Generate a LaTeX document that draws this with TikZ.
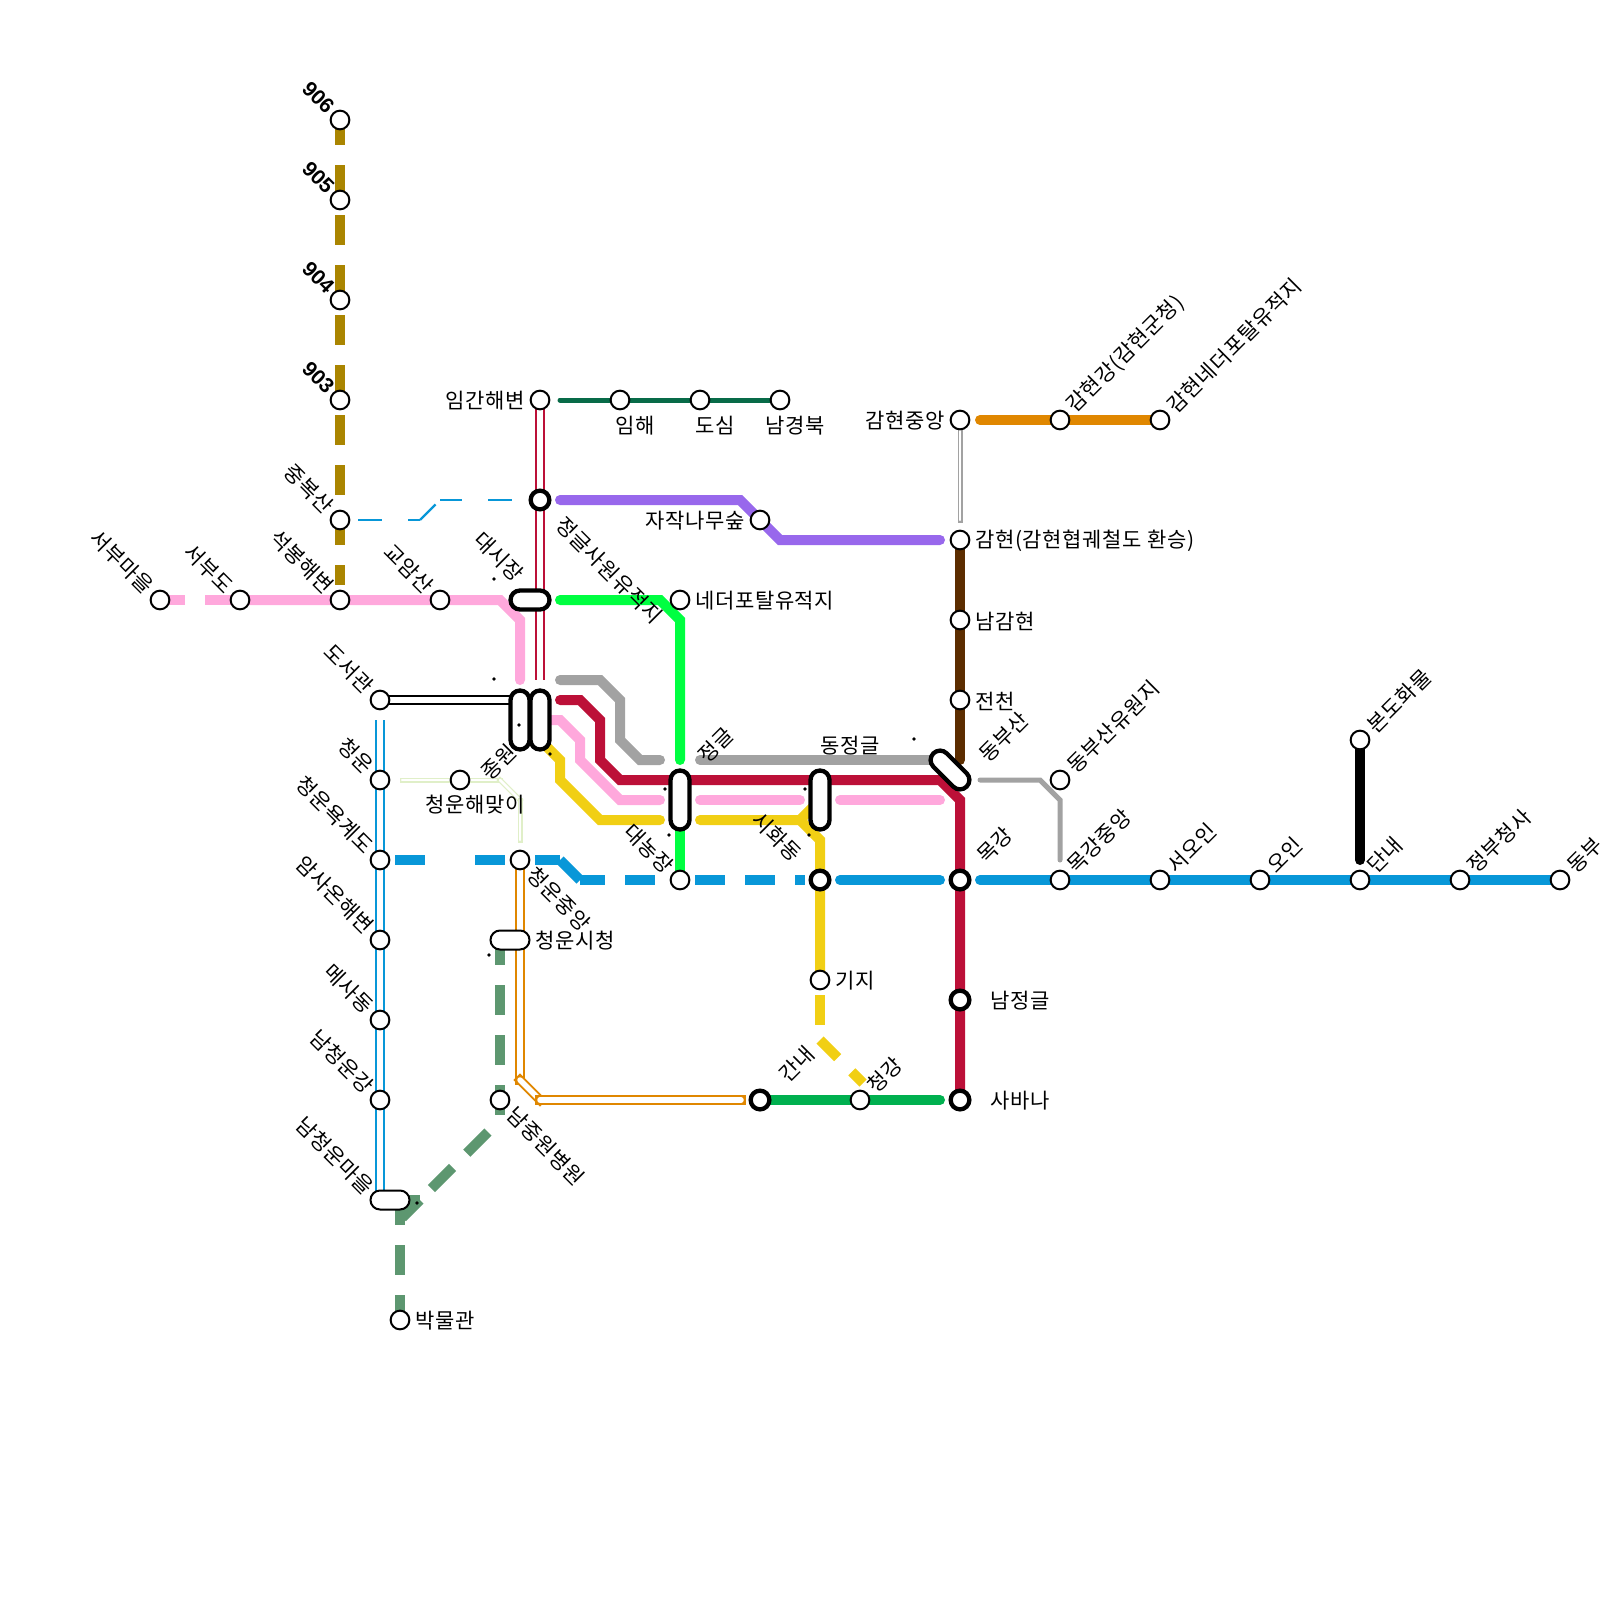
\documentclass[tikz,border=0pt]{standalone}
\usetikzlibrary{backgrounds}
\usepackage{fontspec}
\setmainfont[LetterSpace=3]{Noto Sans CJK KR}
\newfontfamily\numfont{Liberation Sans}
\definecolor{lineGold}{HTML}{AA8500}
\definecolor{linePink}{HTML}{FFA8DC}
\definecolor{lineBlue}{HTML}{0897D8}
\definecolor{lineRed}{HTML}{BC1038}
\definecolor{lineLime}{HTML}{00FF41}
\definecolor{linePurple}{HTML}{9868EC}
\definecolor{lineTeal}{HTML}{086B48}
\definecolor{lineGray}{HTML}{A2A2A2}
\definecolor{lineYellow}{HTML}{F1CF14}
\definecolor{lineBrown}{HTML}{5C2D00}
\definecolor{lineOrange}{HTML}{E08700}
\definecolor{lineGreen}{HTML}{00B04F}
\definecolor{lineMoss}{HTML}{5D9770}
\definecolor{linePale}{HTML}{E0EFC8}
\tikzset{
  solidln/.style={line width=10pt, line cap=round, miter limit=10},
  dashln/.style={line width=10pt, dash pattern=on 30pt off 20pt, dash phase=5pt},
  twinln/.style={line width=2pt, double=white, double distance=6pt},
  thinln/.style={line width=2.4pt, lineBlue, dash pattern=on 24pt off 26pt, dash phase=2pt},
  stn/.style={circle, draw=black, fill=white, line width=2pt, minimum size=18.7pt, inner sep=0pt},
  hub/.style={stn, line width=4.3pt},
  pill/.style={rectangle, rounded corners=9.5pt, draw=black, fill=white, line width=2pt,
    minimum width=39pt, minimum height=19pt, inner sep=0pt},
  bigpill/.style={pill, line width=4.3pt},
  lbl/.style={font=\fontsize{21}{23}\selectfont, inner sep=0pt},
  hlbl/.style={lbl, yshift=-1pt},
  upl/.style={lbl, rotate=-45, anchor=east},
  upr/.style={lbl, rotate=45, anchor=west},
  dnr/.style={lbl, rotate=-45, anchor=west},
  numl/.style={upl, font=\fontsize{21}{23}\selectfont\numfont\bfseries},
}
\begin{document}
\begin{tikzpicture}[x=1pt, y=-1pt]
  \useasboundingbox (0,0) rectangle (1600,1600);

  % stations
  \foreach \n/\x/\y in {n906/340/120, n905/340/200, n904/340/300, n903/340/400, njungbok/340/520,
      nseobu/160/600, nseobudo/240/600, nseokbong/340/600, ngyoam/440/600,
      nimgan/540/400, nimhae/620/400, ndosim/700/400, nnamgb/780/400,
      njajak/760/520, nnether/680/600, ngamj/960/420, ngamg/1060/420, ngamn/1160/420,
      ngam/960/540, nnamgam/960/620, njeon/960/700, nyuwon/1060/780, nbondo/1360/740,
      nmokj/1060/880, nseoin/1160/880, noin/1260/880, ndan/1360/880, njeongbu/1460/880, ndongb/1560/880,
      ndoseo/380/700, ncheong/380/780, nhaemaji/460/780, nyokgye/380/860, nchj/520/860, namsa/380/940,
      nmesa/380/1020, nnamch/380/1100, nnamj/500/1100, nmuseum/400/1320, ndaenong/680/880,
      ngiji/820/980, ncheongk/860/1100}
    \node[stn] (\n) at (\x,\y) {};
  \foreach \n/\x/\y in {nsaseol/540/500, nsihwa/820/880, nmok/960/880, nnamj2/960/1000, nsabana/960/1100, nganae/760/1100}
    \node[hub] (\n) at (\x,\y) {};

  % interchanges
  \node[bigpill] (psijang) at (530,600) {};
  \node[bigpill, rotate=90, minimum width=59pt] (pjw1) at (520,720) {};
  \node[bigpill, rotate=90, minimum width=59pt] (pjw2) at (540,720) {};
  \node[bigpill, rotate=90, minimum width=59pt] (pjeong) at (680,800) {};
  \node[bigpill, rotate=90, minimum width=59pt] (pdong) at (820,800) {};
  \node[bigpill, rotate=-45, minimum width=47pt] (pdb) at (950,770) {};
  \node[pill] (psicheong) at (510,940) {};
  \node[pill] (pnamch) at (390,1200) {};

  % free ends and bends
  \foreach \c/\x/\y in {cpale0/402/780, cpale1/500/780, cpale2/520/800, cpale3/520/840, cgrayend/960/520,
      cor1/520/1080, cor2/540/1100, cor3/741/1100, cblue0/380/720, cblue1/380/1200, cred1/540/680, cblack1/520/700,
      cthin1/420/520, cthin2/440/500, cgold1/340/585, cmoss0/500/940, cmoss1/500/1115, cmoss2/500/1120,
      cmoss3/420/1200, cmoss4/400/1200, cmoss5/400/1220, cpink1/520/680, cpink2/960/800,
      cgray0/540/680, cgray1/680/760, cgray2/940/760, cgray3/960/780, cgray4/1060/860,
      cred0/540/700, cyel0/540/740, cyel1/680/820, cyel2/800/820, cyel3/820/800, cyel4/820/1040, cyel5/863/1083,
      cblu1/560/860, cblu2/580/880, cbrown/960/760}
    \coordinate (\c) at (\x,\y);

  \begin{scope}[on background layer]
    % light lines first
    \foreach \a/\b in {cpale0/cpale1, cpale1/cpale2, cpale2/cpale3} {
      \draw[linePale, line width=5pt, line cap=rect] (\a) -- (\b);
      \draw[white, line width=2.6pt, line cap=round] (\a) -- (\b);
    }
    \draw[lineGray, line width=5pt, line cap=rect] (ngamj.center) -- (cgrayend);
    \draw[white, line width=2.4pt, line cap=round] (ngamj.center) -- (cgrayend);

    % orange twin line
    \foreach \a/\b in {nchj.center/cor1, cor1/cor2, cor2/cor3} {
      \draw[lineOrange, line width=9.5pt, line cap=rect] (\a) -- (\b);
      \draw[white, line width=5.5pt, line cap=round] (\a) -- (\b);
    }

    % twin lines
    \draw[twinln, lineBlue] (cblue0) -- (cblue1);
    \draw[twinln, lineRed] (nimgan.center) -- (cred1);
    \draw[twinln, black, line width=2.2pt, double distance=5.6pt] (ndoseo.center) -- (cblack1);

    % thin dashed link
    \draw[thinln, dash phase=32pt] (njungbok.center) -- (cthin1);
    \draw[thinln] (cthin1) -- (cthin2);
    \draw[thinln] (cthin2) -- (nsaseol.center);

    % gold line
    \draw[dashln, lineGold] (n906.center) -- (cgold1);

    % moss line
    \draw[dashln, lineMoss] (cmoss0) -- (cmoss1);
    \draw[dashln, lineMoss, dash phase=33pt] (cmoss2) -- (cmoss3);
    \draw[dashln, lineMoss] (cmoss4) -- (cmoss3);
    \draw[dashln, lineMoss] (cmoss3) -- (cmoss5);
    \draw[dashln, lineMoss] (cmoss4) -- (nmuseum.center);

    % pink line
    \draw[dashln, linePink] (nseobu.center) -- (nseobudo.center);
    \draw[solidln, linePink] (nseobudo.center) -- (500,600) -- (520,620) -- (cpink1);
    \draw[solidln, linePink, shorten >=20pt] (pjw2.center) -- (560,720) -- (580,740) -- (580,760) -- (620,800) -- (pjeong.center);
    \draw[solidln, linePink, shorten <=20pt, shorten >=20pt] (pjeong.center) -- (pdong.center);
    \draw[solidln, linePink, shorten <=20pt, shorten >=20pt] (pdong.center) -- (cpink2);

    % gray line
    \draw[solidln, lineGray, shorten <=20pt, shorten >=20pt] (cgray0) -- (600,680) -- (620,700) -- (620,740) -- (640,760) -- (cgray1);
    \draw[solidln, lineGray, shorten <=20pt] (cgray1) -- (cgray2);
    \draw[lineGray, line width=5pt, line cap=round, miter limit=10, shorten <=20pt] (cgray3) -- (1040,780) -- (1060,800) -- (cgray4);

    % red line
    \draw[solidln, lineRed, shorten <=20pt] (cred0) -- (580,700) -- (600,720) -- (600,760) -- (620,780) -- (940,780) -- (960,800) -- (nsabana.center);

    % yellow line
    \draw[solidln, lineYellow, shorten >=20pt] (cyel0) -- (560,760) -- (560,780) -- (600,820) -- (cyel1);
    \draw[solidln, lineYellow, shorten <=20pt] (cyel1) -- (cyel2) -- (cyel3);
    \draw[solidln, lineYellow] (cyel2) -- (820,840) -- (ngiji.center);
    \draw[lineYellow, line width=10pt, dash pattern=on 30pt off 30pt, shorten <=15pt] (ngiji.center) -- (cyel4);
    \draw[dashln, lineYellow] (cyel4) -- (cyel5);

    % blue line
    \draw[lineBlue, line width=10pt, dash pattern=on 30pt off 50pt, shorten <=15pt, shorten >=15pt] (nyokgye.center) -- (nchj.center);
    \draw[lineBlue, line width=10pt, shorten <=15pt] (nchj.center) -- (cblu1);
    \draw[lineBlue, line width=10pt] (cblu1) -- (cblu2);
    \draw[dashln, lineBlue, shorten >=25pt] (cblu2) -- (ndaenong.center);
    \draw[lineBlue, line width=10pt, dash pattern=on 30pt off 20pt, shorten <=15pt, shorten >=15pt] (ndaenong.center) -- (nsihwa.center);
    \draw[solidln, lineBlue, shorten <=20pt, shorten >=20pt] (nsihwa.center) -- (nmok.center);
    \draw[solidln, lineBlue, shorten <=20pt] (nmok.center) -- (ndongb.center);

    % other lines
    \draw[solidln, lineLime, shorten <=30pt, shorten >=40pt] (psijang.center) -- (660,600) -- (680,620) -- (pjeong.center);
    \draw[solidln, lineLime] (pjeong.center) -- (ndaenong.center);
    \draw[solidln, linePurple, shorten <=20pt, shorten >=20pt] (nsaseol.center) -- (740,500) -- (780,540) -- (ngam.center);
    \draw[lineTeal, line width=5pt, line cap=round, shorten <=20pt] (nimgan.center) -- (nnamgb.center);
    \draw[solidln, lineOrange, shorten <=20pt] (ngamj.center) -- (ngamn.center);
    \draw[solidln, lineBrown] (ngam.center) -- (cbrown);
    \draw[solidln, black, shorten >=20pt] (nbondo.center) -- (ndan.center);
    \draw[solidln, lineGreen, shorten >=20pt] (nganae.center) -- (nsabana.center);
  \end{scope}

  % tiny dots
  \foreach \x/\y in {494/579, 494/679, 519/725, 550/754, 665/789, 669/835, 489/955, 417/1203, 805/789, 809/835, 914/739}
    \fill[black] (\x,\y) circle (1.8pt);

  % labels
  \foreach \n/\t in {n906/906, n905/905, n904/904, n903/903}
    \node[numl] (l\n) at ([shift={(-9,-10)}]\n.center) {\t};
  \foreach \n/\t in {njungbok/중복산, nseobu/서부마을, nseobudo/서부도, nseokbong/석봉해변, ngyoam/교암산,
      ndoseo/도서관, ncheong/청운, nyokgye/청운욕계도, namsa/암사온해변, nmesa/메사동, nnamch/남청운강,
      ndaenong/대농장}
    \node[upl] (l\n) at ([shift={(-10,-10)}]\n.center) {\t};
  \node[upl] (lnsihwa) at ([shift={(-22,-22)}]nsihwa.center) {시화동};
  \node[upl] (lpsijang) at ([shift={(-10,-22)}]psijang.center) {대시장};
  \node[upl] (lpnamch) at ([shift={(-20,-9)}]pnamch.center) {남청운마을};
  \foreach \n/\t in {ngamg/감현강(감현군청), ngamn/감현네더포탈유적지, nyuwon/동부산유원지, nbondo/본도화물,
      nmokj/목강중앙, nseoin/서오인, noin/오인, ndan/단내, njeongbu/정부청사, ndongb/동부}
    \node[upr] (l\n) at ([shift={(11,-11)}]\n.center) {\t};
  \node[upr] (lnmok) at ([shift={(21,-21)}]nmok.center) {목강};
  \node[upr] (lnganae) at ([shift={(23,-22)}]nganae.center) {간내};
  \node[upr] (lncheongk) at ([shift={(11,-11)}]ncheongk.center) {청강};
  \node[upr] (lpdb) at ([shift={(33,-12)}]pdb.center) {동부산};
  \node[upr] (lpjeong) at ([shift={(22,-41)}]pjeong.center) {정글};
  \node[lbl, rotate=45, anchor=east] (lpjw) at ([shift={(-7,28)}]pjw1.center) {종원};
  \node[dnr] (lnsaseol) at ([shift={(20,21)}]nsaseol.center) {정글사원유적지};
  \foreach \n/\t in {nchj/청운중앙, nnamj/남중원병원}
    \node[dnr] (l\n) at ([shift={(11,11)}]\n.center) {\t};

  \foreach \n/\t in {ngamj/감현중앙, nimgan/임간해변, njajak/자작나무숲}
    \node[hlbl, anchor=east] (l\n) at ([xshift=-15pt]\n.center) {\t};
  \foreach \n/\t in {nnether/네더포탈유적지, ngam/감현(감현협궤철도 환승), nnamgam/남감현, njeon/전천, ngiji/기지, nmuseum/박물관}
    \node[hlbl, anchor=west] (l\n) at ([xshift=15pt]\n.center) {\t};
  \node[hlbl, anchor=west] (lpsicheong) at ([xshift=25pt]psicheong.center) {청운시청};
  \node[hlbl, anchor=west] (lnnamj2) at ([xshift=30pt]nnamj2.center) {남정글};
  \node[hlbl, anchor=west] (lnsabana) at ([xshift=30pt]nsabana.center) {사바나};
  \foreach \n/\t in {nimhae/임해, ndosim/도심, nnamgb/남경북}
    \node[hlbl] (l\n) at ([shift={(15,25)}]\n.center) {\t};
  \node[hlbl] (lnhaemaji) at ([shift={(15,24)}]nhaemaji.center) {청운해맞이};
  \node[hlbl] (lpdong) at ([shift={(30,-55)}]pdong.center) {동정글};
\end{tikzpicture}
\end{document}
